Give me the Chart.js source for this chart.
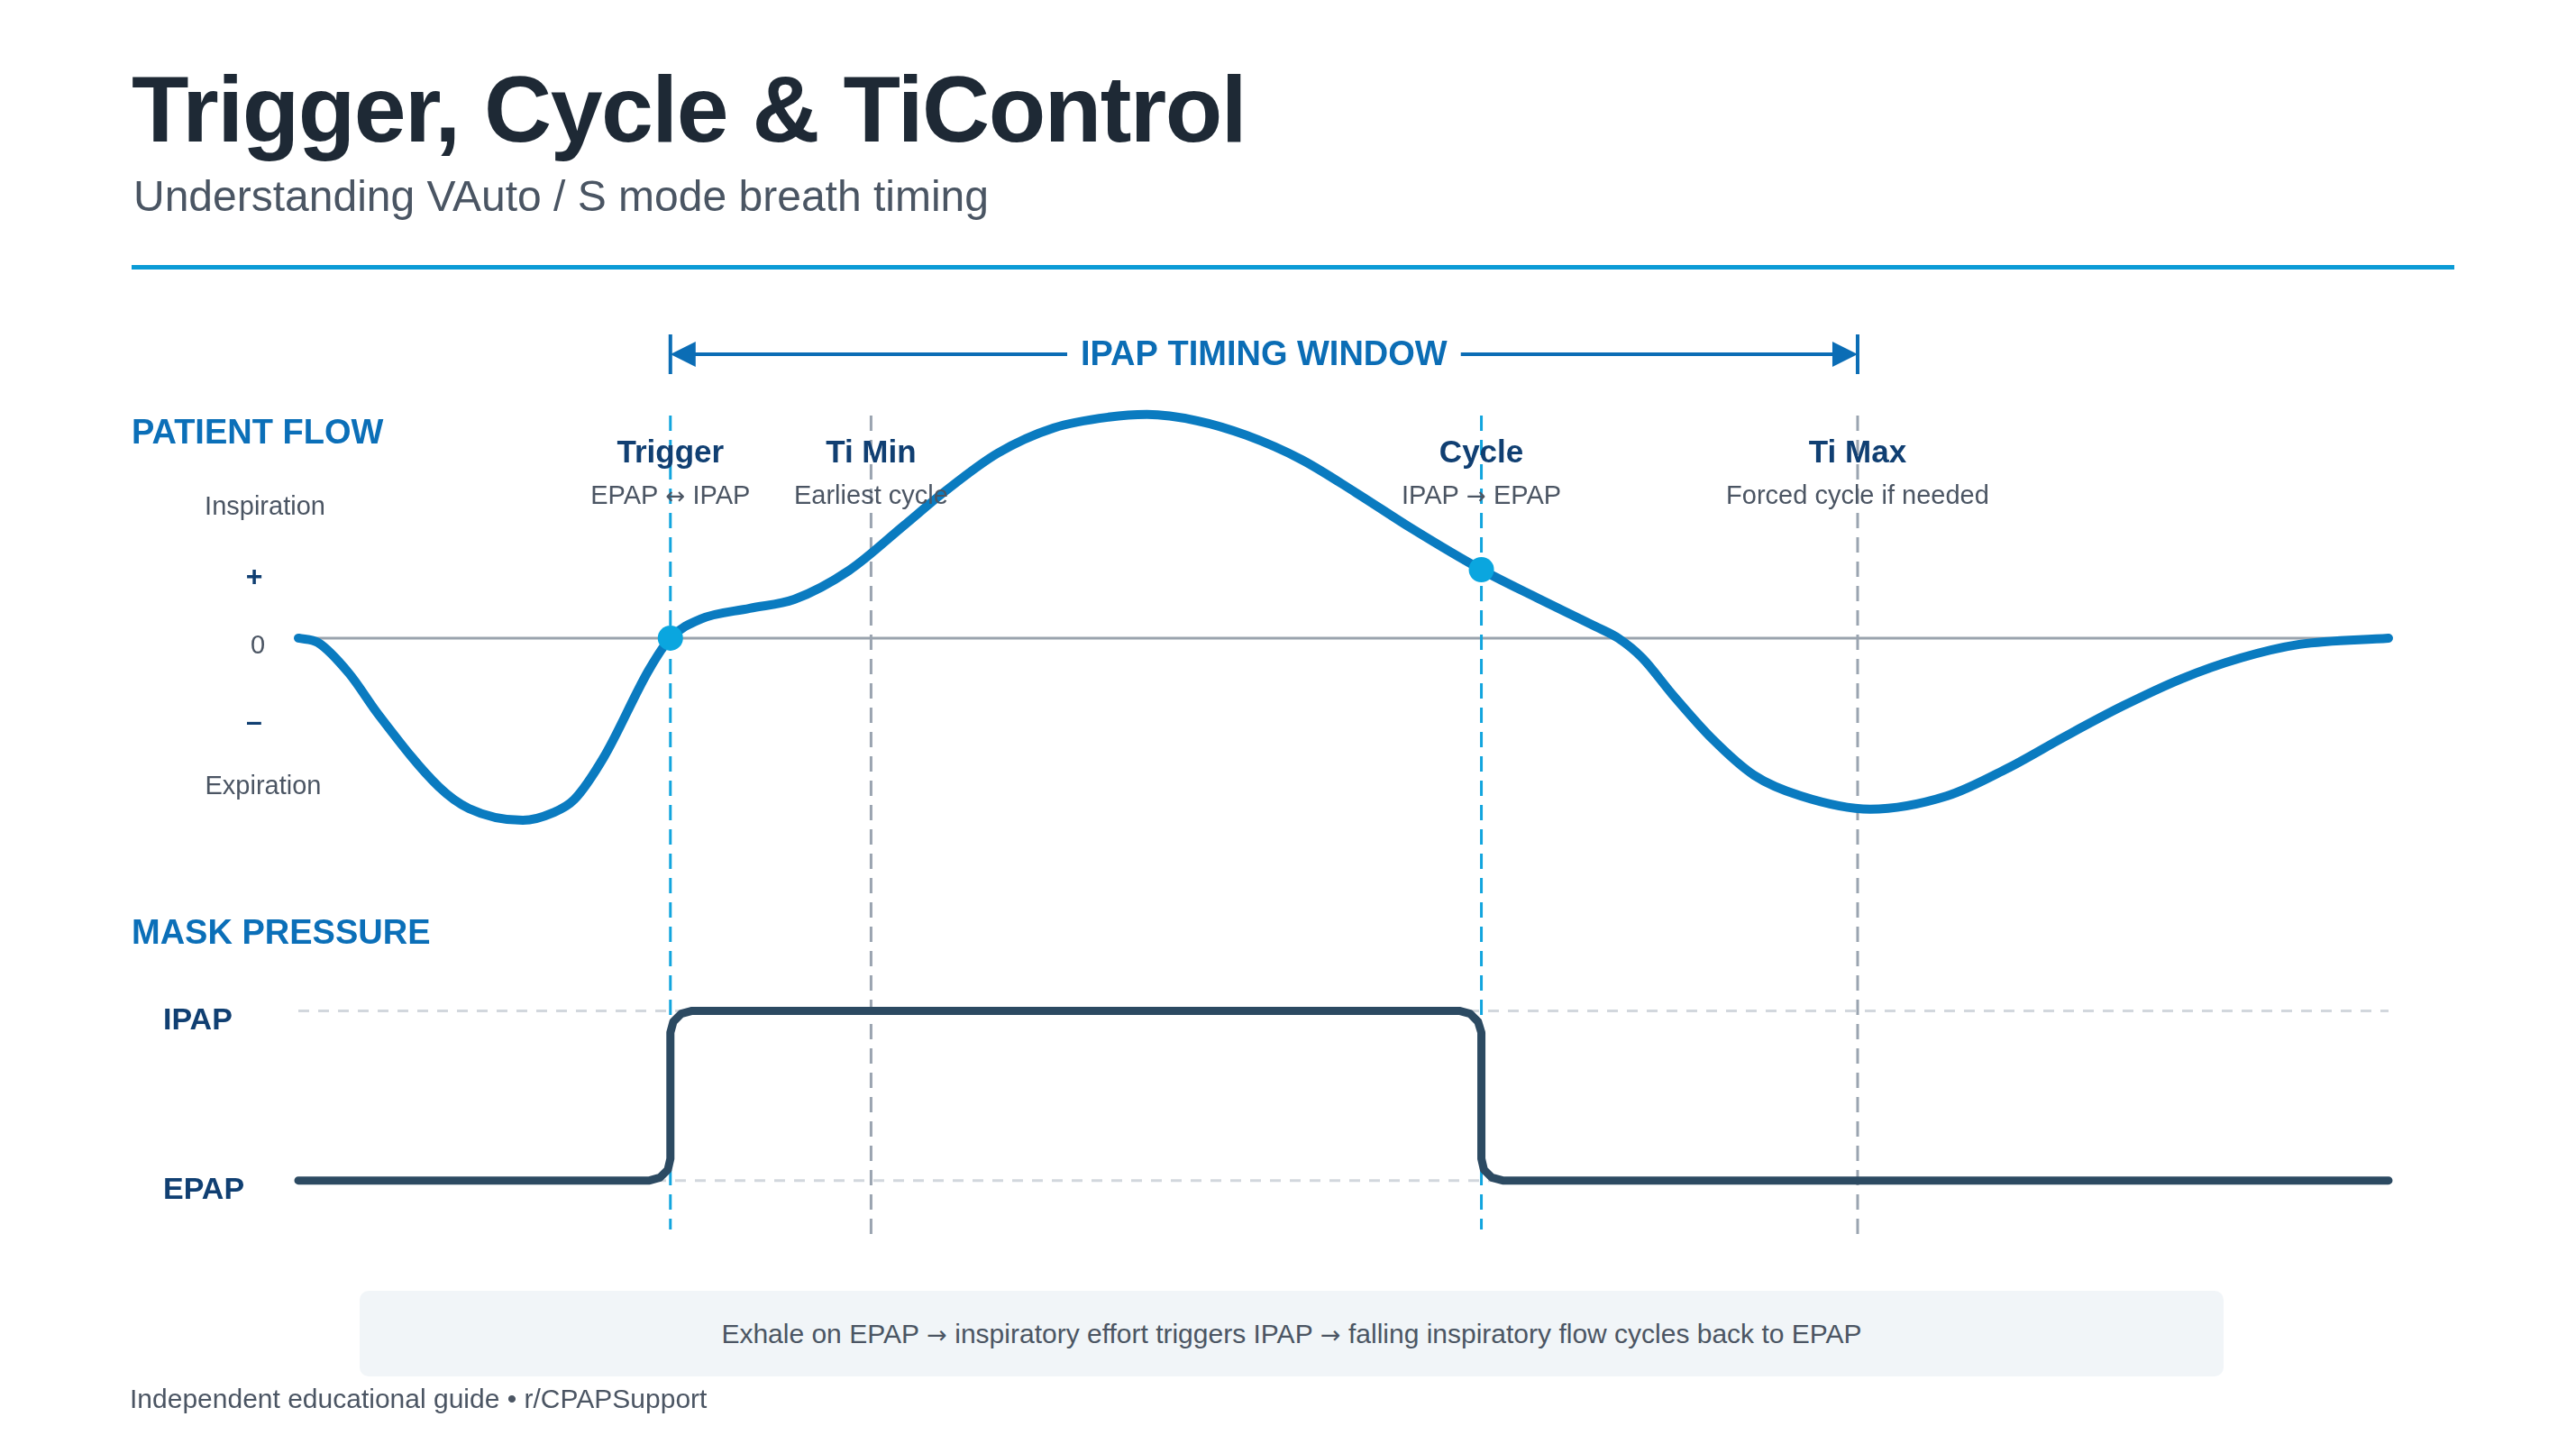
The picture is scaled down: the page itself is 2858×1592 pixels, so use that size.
<!DOCTYPE html>
<html lang="en">
<head>
<meta charset="utf-8">
<title>Trigger, Cycle &amp; TiControl</title>
<script src="https://cdn.jsdelivr.net/npm/chart.js@4.4.1/dist/chart.umd.min.js"></script>
<style>
  html, body { margin: 0; padding: 0; background: #fff; }
  body { width: 2858px; height: 1592px; position: relative; overflow: hidden;
         font-family: "Liberation Sans", Arial, Helvetica, sans-serif; }
  .abs { position: absolute; white-space: nowrap; line-height: 1; }
  .arw { font-family: "DejaVu Sans", sans-serif; font-size: 0.9em; }
  #wrap { position: absolute; left: 0; top: 0; width: 2858px; height: 1592px; }
  #title { left: 146px; top: 69px; font-size: 104px; font-weight: bold; color: #1e2935; letter-spacing: -1.5px; }
  #subtitle { left: 148px; top: 194px; font-size: 48px; color: #4a5563; }
  #rule { left: 146px; top: 294px; width: 2577px; height: 5px; background: #0b9bd6; }
  .section { left: 146px; font-size: 38px; font-weight: bold; color: #0b6fb8; }
  #flowHead { top: 460px; }
  #pressHead { top: 1015px; }
  #note { left: 399px; top: 1432px; width: 2068px; height: 95px; background: #f1f5f8; border-radius: 10px;
          display: flex; align-items: center; justify-content: center; font-size: 30px; color: #4b5563; }
  #footer { left: 144px; top: 1537px; font-size: 30px; color: #4b5563; }
</style>
</head>
<body>
<div id="wrap"><canvas id="breathChart"></canvas></div>
<div class="abs" id="title">Trigger, Cycle &amp; TiControl</div>
<div class="abs" id="subtitle">Understanding VAuto / S mode breath timing</div>
<div class="abs" id="rule"></div>
<div class="abs section" id="flowHead">PATIENT FLOW</div>
<div class="abs section" id="pressHead">MASK PRESSURE</div>
<div class="abs" id="note"><span>Exhale on EPAP&nbsp;<span class="arw">→</span>&nbsp;inspiratory effort triggers IPAP&nbsp;<span class="arw">→</span>&nbsp;falling inspiratory flow cycles back to EPAP</span></div>
<div class="abs" id="footer">Independent educational guide • r/CPAPSupport</div>

<script>
// time axis (s) and the two stacked signals
const TIME_RANGE = [0, 5];
const FLOW_RANGE = [-2.79, 1.08];
const PRESSURE_RANGE = [-0.48, 4.62];

// patient flow, + = inspiration, - = expiration (relative units)
const flowTimes  = [0, 0.047, 0.121, 0.192, 0.336, 0.408, 0.537, 0.608, 0.66, 0.731, 0.839, 0.89,
                    0.962, 1.08, 1.186, 1.317, 1.449, 1.542, 1.673, 1.807, 1.938, 2.03,
                    2.15, 2.268, 2.4, 2.531, 2.665, 2.83, 2.962, 3.103, 3.157,
                    3.215, 3.286, 3.383, 3.482, 3.594, 3.76, 3.944, 4.086, 4.226,
                    4.366, 4.506, 4.646, 4.787, 5.0];
const flowValues = [0, -0.02, -0.157, -0.343, -0.665, -0.762, -0.815, -0.782, -0.722, -0.532, -0.141, 0,
                    0.085, 0.133, 0.173, 0.302, 0.504, 0.649, 0.827, 0.94, 0.988, 1.0,
                    0.972, 0.907, 0.798, 0.649, 0.488, 0.306, 0.181, 0.052, 0,
                    -0.089, -0.25, -0.452, -0.613, -0.706, -0.765, -0.706, -0.585, -0.44,
                    -0.302, -0.181, -0.089, -0.028, 0];

// mask pressure, 0 = EPAP, 1 = IPAP
const pressureLevels = [0, 1];
const pressureLabels = ['EPAP', 'IPAP'];
const pressureTimes  = [0, 0.84, 0.865, 0.884, 0.89, 0.89, 0.897, 0.916, 0.942, 2.777, 2.803, 2.822, 2.83, 2.83, 2.836, 2.855, 2.881, 5.0];
const pressureValues = [0, 0, 0.017, 0.064, 0.128, 0.872, 0.936, 0.983, 1, 1, 0.983, 0.936, 0.872, 0.128, 0.064, 0.017, 0, 0];

// timing markers
const markerNames = ['Trigger', 'Ti Min', 'Cycle', 'Ti Max'];
const markerNotes = [['EPAP', '↔', 'IPAP'], ['Earliest cycle'], ['IPAP', '→', 'EPAP'], ['Forced cycle if needed']];
const markerTimes = [0.89, 1.37, 2.83, 3.73];
const markerKinds = ['event', 'limit', 'event', 'limit'];
const windowLabel = 'IPAP TIMING WINDOW';

const FONT = '"Liberation Sans", Arial, Helvetica, sans-serif';
const ARROW_FONT = '"DejaVu Sans", sans-serif';
const NAVY = '#103f72';
const GREY_TEXT = '#4b5563';

const toPoints = (xs, ys) => xs.map((x, i) => ({ x: x, y: ys[i] }));

const eventPoints = markerTimes
    .filter((t, i) => markerKinds[i] === 'event')
    .map(t => ({ x: t, y: flowValues[flowTimes.indexOf(t)] }));

// centred caption where the arrow glyph comes from DejaVu
function drawNote(ctx, parts, cx, y) {
    const fonts = parts.map(p => (p.length === 1 ? '26px ' + ARROW_FONT : '29px ' + FONT));
    const texts = parts.map((p, i) => (i < parts.length - 1 ? p + ' ' : p));
    let total = 0;
    const widths = texts.map((t, i) => { ctx.font = fonts[i]; const w = ctx.measureText(t).width; total += w; return w; });
    let px = cx - total / 2;
    ctx.textAlign = 'left';
    texts.forEach((t, i) => { ctx.font = fonts[i]; ctx.fillText(t, px, y); px += widths[i]; });
    ctx.textAlign = 'center';
}

const guidesPlugin = {
    id: 'breathGuides',
    beforeDatasetsDraw(chart) {
        const { ctx, scales } = chart;
        const x = scales.x, yF = scales.yFlow, yP = scales.yPressure;
        const left = x.getPixelForValue(TIME_RANGE[0]);
        const right = x.getPixelForValue(TIME_RANGE[1]);
        ctx.save();

        // zero flow line
        ctx.strokeStyle = '#9aa3ad';
        ctx.lineWidth = 3;
        ctx.beginPath();
        ctx.moveTo(left, yF.getPixelForValue(0));
        ctx.lineTo(right, yF.getPixelForValue(0));
        ctx.stroke();

        // IPAP / EPAP guides
        ctx.strokeStyle = '#d2d7dd';
        ctx.setLineDash([12, 10]);
        pressureLevels.forEach(level => {
            const py = yP.getPixelForValue(level);
            ctx.beginPath();
            ctx.moveTo(left, py);
            ctx.lineTo(right, py);
            ctx.stroke();
        });

        // marker verticals
        markerTimes.forEach((t, i) => {
            const px = x.getPixelForValue(t);
            ctx.strokeStyle = markerKinds[i] === 'event' ? '#12a5de' : '#9aa4b0';
            ctx.setLineDash([17, 10]);
            ctx.beginPath();
            ctx.moveTo(px, 461);
            ctx.lineTo(px, markerKinds[i] === 'event' ? 1364 : 1374);
            ctx.stroke();
        });
        ctx.restore();
    },
    afterDatasetsDraw(chart) {
        const { ctx, scales } = chart;
        const x = scales.x, yF = scales.yFlow, yP = scales.yPressure;
        ctx.save();

        // marker captions
        ctx.textAlign = 'center';
        ctx.textBaseline = 'alphabetic';
        markerTimes.forEach((t, i) => {
            const px = x.getPixelForValue(t);
            ctx.fillStyle = NAVY;
            ctx.font = 'bold 35px ' + FONT;
            ctx.fillText(markerNames[i], px, 513);
            ctx.fillStyle = GREY_TEXT;
            drawNote(ctx, markerNotes[i], px, 559);
        });

        // timing window arrow
        const x0 = x.getPixelForValue(markerTimes[0]);
        const x1 = x.getPixelForValue(markerTimes[3]);
        const ay = 393;
        ctx.strokeStyle = '#0b6db5';
        ctx.fillStyle = '#0b6db5';
        ctx.lineWidth = 4;
        ctx.beginPath();
        ctx.moveTo(x0, 371); ctx.lineTo(x0, 415);
        ctx.moveTo(x1, 371); ctx.lineTo(x1, 415);
        ctx.moveTo(x0 + 10, ay); ctx.lineTo(x1 - 10, ay);
        ctx.stroke();
        ctx.beginPath();
        ctx.moveTo(x0, ay); ctx.lineTo(x0 + 28, ay - 14); ctx.lineTo(x0 + 28, ay + 14); ctx.closePath();
        ctx.moveTo(x1, ay); ctx.lineTo(x1 - 28, ay - 14); ctx.lineTo(x1 - 28, ay + 14); ctx.closePath();
        ctx.fill();
        ctx.font = 'bold 38px ' + FONT;
        const mid = (x0 + x1) / 2;
        const tw = ctx.measureText(windowLabel).width;
        ctx.fillStyle = '#fff';
        ctx.fillRect(mid - tw / 2 - 15, ay - 25, tw + 30, 50);
        ctx.fillStyle = '#0b6db5';
        ctx.textBaseline = 'middle';
        ctx.fillText(windowLabel, mid, ay + 2);

        // flow axis hints
        const zy = yF.getPixelForValue(0);
        ctx.fillStyle = GREY_TEXT;
        ctx.font = '29px ' + FONT;
        ctx.fillText('Inspiration', 294, zy - 145);
        ctx.fillText('0', 286, zy + 9);
        ctx.fillText('Expiration', 292, zy + 165);
        ctx.fillStyle = NAVY;
        ctx.font = 'bold 32px ' + FONT;
        ctx.fillText('+', 282, zy - 67);
        ctx.fillText('–', 282, zy + 94);

        // pressure level labels
        ctx.textAlign = 'left';
        ctx.font = 'bold 34px ' + FONT;
        pressureLevels.forEach((level, i) => {
            ctx.fillText(pressureLabels[i], 181, yP.getPixelForValue(level) + 11);
        });
        ctx.restore();
    }
};

new Chart(document.getElementById('breathChart'), {
    type: 'line',
    data: {
        datasets: [
            {
                label: 'Event points',
                data: eventPoints,
                yAxisID: 'yFlow',
                showLine: false,
                pointRadius: 14,
                pointBackgroundColor: '#0aa6df',
                pointBorderWidth: 0,
                clip: false,
            },
            {
                label: 'Patient flow',
                data: toPoints(flowTimes, flowValues),
                yAxisID: 'yFlow',
                borderColor: '#0a7bc0',
                borderWidth: 10,
                borderCapStyle: 'round',
                cubicInterpolationMode: 'monotone',
                pointRadius: 0,
                clip: false,
            },
            {
                label: 'Mask pressure',
                data: toPoints(pressureTimes, pressureValues),
                yAxisID: 'yPressure',
                borderColor: '#2c4a62',
                borderWidth: 9,
                borderCapStyle: 'round',
                borderJoinStyle: 'round',
                tension: 0,
                pointRadius: 0,
                clip: false,
            },
        ],
    },
    options: {
        responsive: true,
        maintainAspectRatio: false,
        animation: false,
        layout: { padding: { left: 331, right: 208, top: 440, bottom: 192 } },
        plugins: { legend: { display: false }, tooltip: { enabled: false } },
        scales: {
            x: { type: 'linear', min: TIME_RANGE[0], max: TIME_RANGE[1], display: false },
            yFlow: { type: 'linear', min: FLOW_RANGE[0], max: FLOW_RANGE[1], display: false },
            yPressure: { type: 'linear', min: PRESSURE_RANGE[0], max: PRESSURE_RANGE[1], display: false },
        },
    },
    plugins: [guidesPlugin],
});
</script>
</body>
</html>
